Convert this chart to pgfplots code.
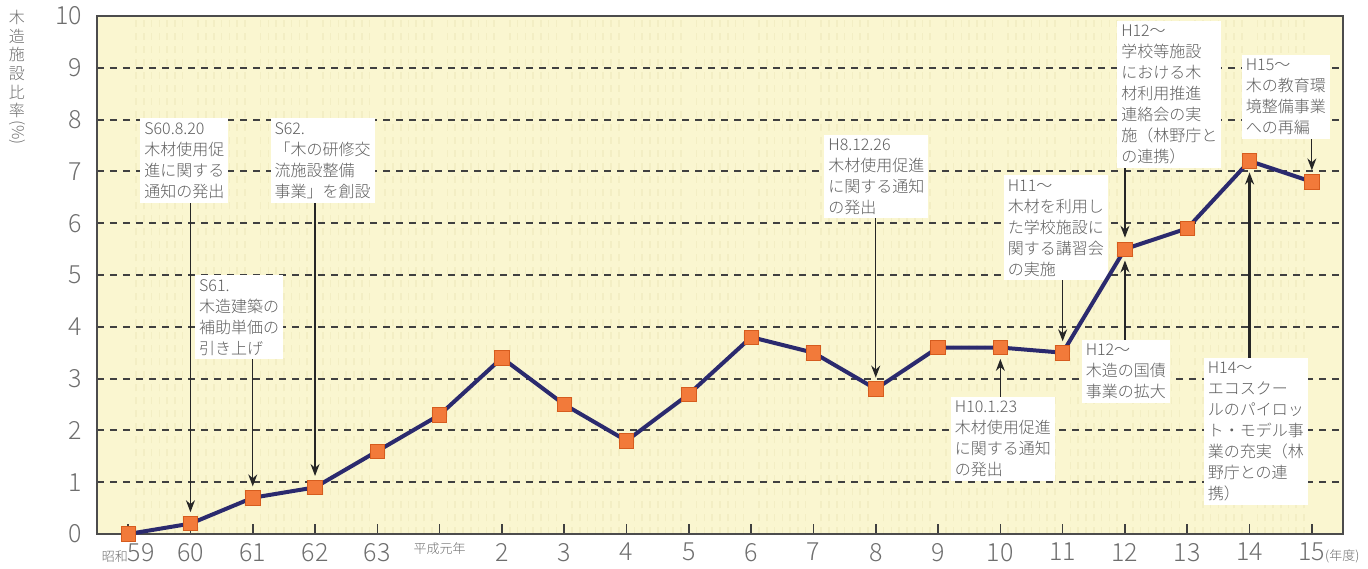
\documentclass[border=0pt]{standalone}
\usepackage{pgfplots}
\pgfplotsset{compat=1.18}
\usepackage{fontspec}
\setmainfont{Noto Sans CJK JP}
\newfontfamily\lightf{Noto Sans CJK JP Light}
\usetikzlibrary{arrows.meta}
\definecolor{bg}{RGB}{250,246,208}
\definecolor{stripe}{RGB}{243,238,196}
\definecolor{linec}{RGB}{43,42,110}
\definecolor{markf}{RGB}{242,122,58}
\definecolor{markd}{RGB}{214,92,30}
\definecolor{txtg}{RGB}{95,95,95}
\definecolor{tickg}{RGB}{110,110,110}
\tikzset{
  ann/.style={anchor=north west, fill=white, inner sep=2pt, align=left, font=\lightf\fontsize{8}{10.5}\selectfont, text=txtg},
  arr/.style={draw=black!85, line width=0.6pt, -{Stealth[length=6pt,width=4.5pt]}},
}
\begin{document}
\begin{tikzpicture}
\begin{axis}[
  scale only axis,
  width=623pt, height=259pt,
  at={(0,0)}, anchor=south west,
  xmin=-0.5, xmax=19.5, ymin=0, ymax=10,
  axis background/.style={fill=bg},
  axis line style={draw=black!70, line width=1pt},
  xtick={0,...,19},
  xticklabels={{{\fontsize{6.5}{7}\selectfont 昭和}59},60,61,62,63,{\fontsize{6.5}{7}\selectfont 平成元年},2,3,4,5,6,7,8,9,10,11,12,13,14,{15\rlap{\fontsize{6.5}{7}\selectfont(年度)}}},
  xtick pos=bottom, tick align=inside,
  major tick length=5pt,
  minor tick length=0pt,
  minor x tick num=7,
  xminorgrids,
  minor grid style={draw=stripe, line width=0.8pt},
  xtick style={draw=black!75, line width=0.8pt},
  ytick={0,...,10},
  ytick style={draw=none},
  ymajorgrids,
  grid style={dash pattern=on 3.5pt off 3pt, line width=1pt, draw=black!75},
  /pgf/number format/assume math mode=true,
  ticklabel style={font=\lightf\fontsize{12.5}{14}\selectfont, text=tickg},
  xticklabel style={yshift=-1pt},
  yticklabel style={xshift=-4pt},
  clip=false,
]
% arrows
\draw[arr] (axis cs:1,7) -- (axis cs:1,0.42);
\draw[arr] (axis cs:3,7) -- (axis cs:3,1.12);
\draw[arr] (axis cs:2,4) -- (axis cs:2,0.92);
\draw[arr] (axis cs:12,7) -- (axis cs:12,3.02);
\draw[arr] (axis cs:14,2) -- (axis cs:14,3.38);
\draw[arr] (axis cs:15,5.5) -- (axis cs:15,3.72);
\draw[arr] (axis cs:16,8) -- (axis cs:16,5.72);
\draw[arr] (axis cs:16,3) -- (axis cs:16,5.28);
\draw[arr, line width=1.3pt] (axis cs:18,2.5) -- (axis cs:18,6.98);
\draw[arr] (axis cs:19,8.5) -- (axis cs:19,7.02);
% boxes
\node[ann] at (axis cs:0.19,8.03) {S60.8.20\\木材使用促\\進に関する\\通知の発出};
\node[ann] at (axis cs:2.28,8.03) {S62.\\「木の研修交\\流施設整備\\事業」を創設};
\node[ann] at (axis cs:1.07,5.0) {S61.\\木造建築の\\補助単価の\\引き上げ};
\node[ann] at (axis cs:11.17,7.72) {H8.12.26\\木材使用促進\\に関する通知\\の発出};
\node[ann] at (axis cs:13.2,2.65) {H10.1.23\\木材使用促進\\に関する通知\\の発出};
\node[ann] at (axis cs:14.05,6.93) {H11～\\木材を利用し\\た学校施設に\\関する講習会\\の実施};
\node[ann] at (axis cs:15.87,9.92) {H12～\\学校等施設\\における木\\材利用推進\\連絡会の実\\施（林野庁と\\の連携）};
\node[ann] at (axis cs:15.3,3.75) {H12～\\木造の国債\\事業の拡大};
\node[ann] at (axis cs:17.26,3.4) {H14～\\エコスクー\\ルのパイロッ\\ト・モデル事\\業の充実（林\\野庁との連\\携）};
\node[ann] at (axis cs:17.87,9.25) {H15～\\木の教育環\\境整備事業\\への再編};
% data
\addplot[color=linec, line width=2pt, mark=square*, mark size=3.6pt,
  mark options={fill=markf, draw=markd, line width=0.4pt}]
  coordinates {
  (0,0) (1,0.2) (2,0.7) (3,0.9) (4,1.6) (5,2.3) (6,3.4) (7,2.5) (8,1.8) (9,2.7)
  (10,3.8) (11,3.5) (12,2.8) (13,3.6) (14,3.6) (15,3.5) (16,5.5) (17,5.9) (18,7.2) (19,6.8)
  };
\end{axis}
\node[anchor=north, align=center, inner sep=0pt, text=tickg, font=\lightf\fontsize{8}{9.3}\selectfont]
  at ([xshift=-40pt,yshift=262pt]current axis.south west)
  {木\\造\\施\\設\\比\\率\\[1pt]\rotatebox[origin=c]{-90}{(\%)}};
\pgfresetboundingbox
\path ([xshift=-48.5pt,yshift=-17pt]current axis.south west) rectangle ([xshift=635.5pt,yshift=267pt]current axis.south west);
\end{tikzpicture}
\end{document}
